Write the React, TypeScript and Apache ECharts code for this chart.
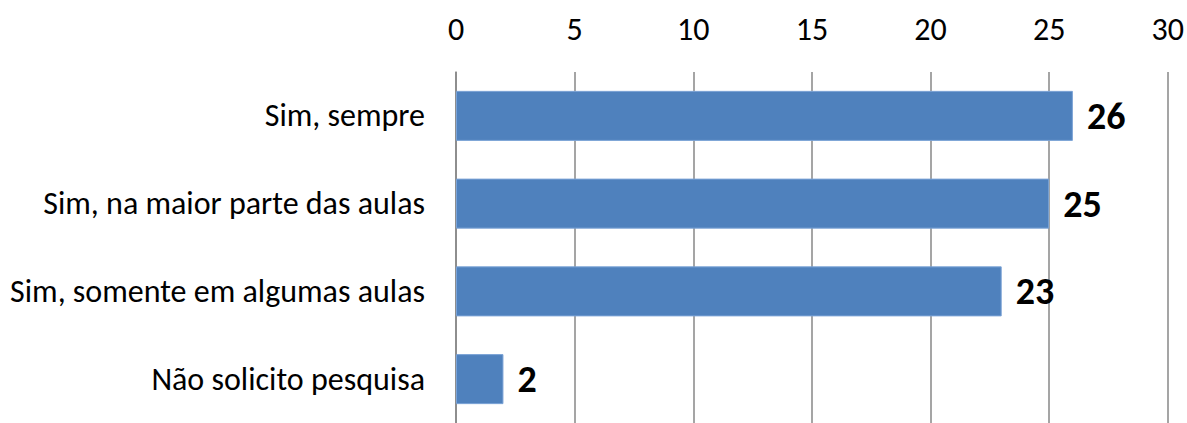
import React, { useEffect, useRef } from "react";
import * as echarts from "echarts";

const categories = [
  "Sim, sempre",
  "Sim, na maior parte das aulas",
  "Sim, somente em algumas aulas",
  "Não solicito pesquisa",
];
const values = [26, 25, 23, 2];
const xMin = 0;
const xMax = 30;
const xInterval = 5;

export default function App() {
  const ref = useRef<HTMLDivElement>(null);
  useEffect(() => {
    const chart = echarts.init(ref.current!, null, { renderer: "svg" });
    const font = "Calibri, Carlito, 'Open Sans', sans-serif";
    chart.setOption({
      animation: false,
      grid: { left: 456, right: 17, top: 72, height: 357, containLabel: false },
      xAxis: {
        type: "value",
        position: "top",
        min: xMin,
        max: xMax,
        interval: xInterval,
        axisLine: { show: false },
        axisTick: { show: false },
        axisLabel: { color: "#000", fontSize: 32, fontFamily: font, margin: 27 },
        splitLine: { show: true, lineStyle: { color: "#878787", width: 1.5 } },
      },
      yAxis: {
        type: "category",
        inverse: true,
        data: categories,
        axisLine: { show: true, lineStyle: { color: "#878787", width: 1.5 } },
        axisTick: { show: false },
        axisLabel: { color: "#000", fontSize: 32, fontFamily: font, margin: 31 },
      },
      series: [
        {
          type: "bar",
          data: values,
          barCategoryGap: "43%",
          itemStyle: { color: "#4F81BD", borderColor: "#7BA3D6", borderWidth: 1 },
          label: {
            show: true,
            position: "right",
            distance: 14,
            color: "#000",
            fontSize: 38,
            fontWeight: "bold",
            fontFamily: font,
          },
        },
      ],
    });
    return () => chart.dispose();
  }, []);
  return (
    <div
      ref={ref}
      style={{ position: "fixed", left: 0, top: 0, width: 1187, height: 423, background: "#fff" }}
    />
  );
}
